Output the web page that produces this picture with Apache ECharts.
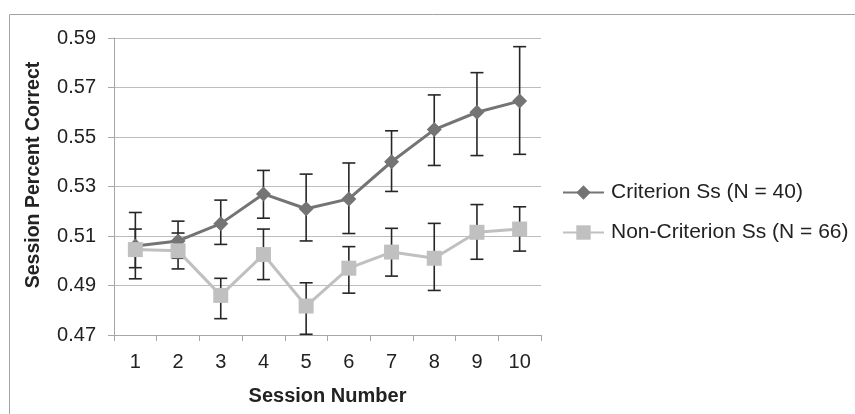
<!DOCTYPE html>
<html>
<head>
<meta charset="utf-8">
<script src="https://cdn.jsdelivr.net/npm/echarts@6/dist/echarts.min.js"></script>
<style>
html,body{margin:0;padding:0;background:#fff;}
#chart{width:855px;height:414px;}
</style>
</head>
<body>
<div id="chart"></div>
<script>
const sessions = ['1','2','3','4','5','6','7','8','9','10'];
const critName = 'Criterion Ss (N = 40)';
const critMean = [0.506, 0.508, 0.515, 0.527, 0.521, 0.525, 0.540, 0.553, 0.560, 0.5645];
const critHigh = [0.5195, 0.516, 0.5245, 0.5365, 0.535, 0.5395, 0.5525, 0.567, 0.576, 0.5865];
const critLow  = [0.4927, 0.501, 0.5066, 0.5172, 0.508, 0.511, 0.528, 0.5385, 0.5425, 0.543];
const nonName = 'Non-Criterion Ss (N = 66)';
const nonMean = [0.5045, 0.504, 0.486, 0.5025, 0.4817, 0.497, 0.5035, 0.501, 0.5115, 0.5128];
const nonHigh = [0.5128, 0.5112, 0.4929, 0.5128, 0.4911, 0.5057, 0.5131, 0.5151, 0.5227, 0.5218];
const nonLow  = [0.4972, 0.4967, 0.4766, 0.4924, 0.4703, 0.4869, 0.4938, 0.488, 0.5006, 0.5039];
const yMin = 0.47, yMax = 0.59, yStep = 0.02;
const xTitle = 'Session Number';
const yTitle = 'Session Percent Correct';

const FONT = '"Liberation Sans", Arial, sans-serif';

function errData(low, high) {
  return sessions.map((s, i) => [i, low[i], high[i]]);
}
function errRender(params, api) {
  const x = api.value(0);
  const lo = api.coord([x, api.value(1)]);
  const hi = api.coord([x, api.value(2)]);
  const cx = lo[0];
  const hw = 6.5;
  const style = {stroke: '#262626', lineWidth: 1.6, fill: null};
  return {
    type: 'group',
    children: [
      {type: 'line', shape: {x1: cx, y1: hi[1], x2: cx, y2: lo[1]}, style: style},
      {type: 'line', shape: {x1: cx - hw, y1: hi[1], x2: cx + hw, y2: hi[1]}, style: style},
      {type: 'line', shape: {x1: cx - hw, y1: lo[1], x2: cx + hw, y2: lo[1]}, style: style}
    ]
  };
}

const chart = echarts.init(document.getElementById('chart'), null, {renderer: 'canvas'});
chart.setOption({
  animation: false,
  backgroundColor: '#fff',
  textStyle: {fontFamily: FONT},
  grid: {left: 114, right: 314, top: 38, bottom: 79, containLabel: false},
  graphic: [
    {type: 'rect', left: 7, top: 12, shape: {x: 0, y: 0, width: 880, height: 440},
     style: {fill: null, stroke: '#a3a3a3', lineWidth: 1}, silent: true},
    {type: 'text', x: 33.5, y: 175, rotation: Math.PI / 2,
     style: {text: yTitle, fontFamily: FONT, fontSize: 19.5, fontWeight: 'bold', fill: '#222',
             align: 'center', verticalAlign: 'middle'}}
  ],
  legend: {
    orient: 'vertical', left: 562, top: 182, padding: 0, itemWidth: 41, itemHeight: 18, itemGap: 19,
    textStyle: {fontFamily: FONT, fontSize: 21, color: '#222', padding: [0, 0, 0, 2]},
    data: [critName, nonName]
  },
  xAxis: {
    type: 'category', data: sessions, boundaryGap: true,
    name: xTitle, nameLocation: 'middle', nameGap: 51,
    nameTextStyle: {fontFamily: FONT, fontSize: 20, fontWeight: 'bold', color: '#222'},
    axisLine: {lineStyle: {color: '#a6a6a6', width: 1}},
    axisTick: {show: true, alignWithLabel: false, length: 6, lineStyle: {color: '#a6a6a6'}},
    axisLabel: {fontFamily: FONT, fontSize: 20, color: '#222', margin: 17}
  },
  yAxis: {
    type: 'value', min: yMin, max: yMax, interval: yStep,
    axisLine: {show: true, lineStyle: {color: '#a6a6a6', width: 1}},
    axisTick: {show: true, length: 6, lineStyle: {color: '#a6a6a6'}},
    axisLabel: {fontFamily: FONT, fontSize: 20, color: '#222', margin: 18,
                formatter: v => v.toFixed(2)},
    splitLine: {show: true, lineStyle: {color: '#bdbdbd', width: 1}}
  },
  series: [
    {type: 'custom', name: 'critErr', renderItem: errRender, data: errData(critLow, critHigh),
     encode: {x: 0, y: [1, 2]}, z: 1, silent: true},
    {type: 'custom', name: 'nonErr', renderItem: errRender, data: errData(nonLow, nonHigh),
     encode: {x: 0, y: [1, 2]}, z: 1, silent: true},
    {type: 'line', name: critName, data: critMean, z: 3,
     symbol: 'diamond', symbolSize: [15, 15], showAllSymbol: true,
     lineStyle: {color: '#747474', width: 3}, itemStyle: {color: '#747474'}},
    {type: 'line', name: nonName, data: nonMean, z: 4,
     symbol: 'rect', symbolSize: 15, showAllSymbol: true,
     lineStyle: {color: '#c0c0c0', width: 3}, itemStyle: {color: '#c0c0c0'}}
  ]
});
</script>
</body>
</html>
